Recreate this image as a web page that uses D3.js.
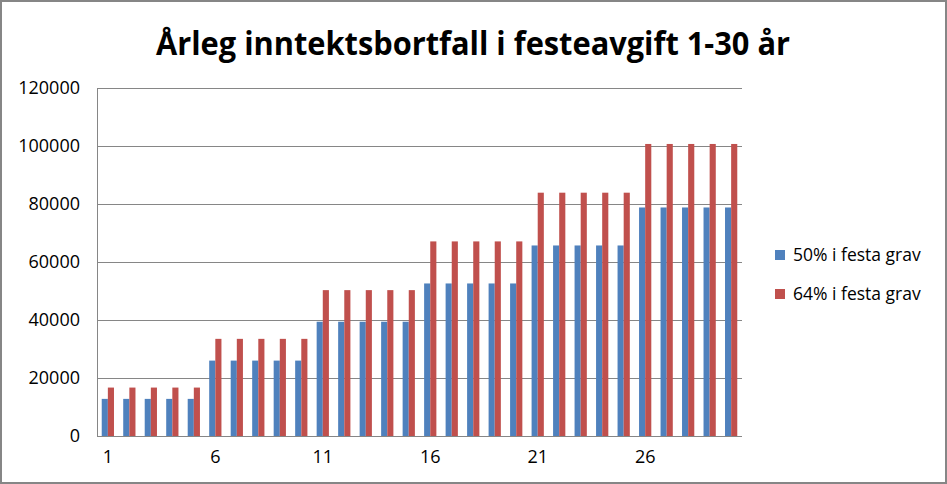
<!DOCTYPE html>
<meta charset="utf-8">
<style>
body { margin: 0; background: #fff; }
svg { font-family: "Open Sans", sans-serif; }
</style>
<body>
<script src="https://cdn.jsdelivr.net/npm/d3@7/dist/d3.min.js"></script>
<script>

// data
const years = d3.range(1, 31);
const seriesNames = ["50% i festa grav", "64% i festa grav"];
const colors = ["#4f81bd", "#c0504d"];
const half = [12800, 12800, 12800, 12800, 12800,
              26000, 26000, 26000, 26000, 26000,
              39400, 39400, 39400, 39400, 39400,
              52600, 52600, 52600, 52600, 52600,
              65700, 65700, 65700, 65700, 65700,
              78800, 78800, 78800, 78800, 78800];
const big = [16700, 16700, 16700, 16700, 16700,
             33500, 33500, 33500, 33500, 33500,
             50300, 50300, 50300, 50300, 50300,
             67100, 67100, 67100, 67100, 67100,
             83900, 83900, 83900, 83900, 83900,
             100700, 100700, 100700, 100700, 100700];
const yTicks = [0, 20000, 40000, 60000, 80000, 100000, 120000];
const xTickLabels = [1, 6, 11, 16, 21, 26];

const W = 947, H = 484;
const plot = { left: 97, right: 742, top: 88, bottom: 436 };

const svg = d3.select("body").append("svg")
   .attr("width", W)
   .attr("height", H);

svg.append("rect")
   .attr("x", 1).attr("y", 1)
   .attr("width", W - 2).attr("height", H - 2)
   .attr("fill", "#fff")
   .attr("stroke", "#868686")
   .attr("stroke-width", 2);

svg.append("text")
   .attr("x", 473)
   .attr("y", 55)
   .attr("text-anchor", "middle")
   .attr("textLength", 634)
   .attr("lengthAdjust", "spacingAndGlyphs")
   .style("font-size", "32px")
   .style("font-weight", "bold")
   .text("Årleg inntektsbortfall i festeavgift 1-30 år");

let x = d3.scaleBand()
   .domain(years)
   .range([plot.left, plot.right])
   .paddingInner(0.43)
   .paddingOuter(0.22);

let x1 = d3.scaleBand()
   .domain([0, 1])
   .range([0, x.bandwidth()]);

let y = d3.scaleLinear()
   .domain([0, 120000])
   .range([plot.bottom, plot.top]);

// gridlines
svg.append("g")
   .selectAll("line")
   .data(yTicks.slice(1))
   .join("line")
   .attr("x1", plot.left).attr("x2", plot.right)
   .attr("y1", d => Math.round(y(d)) + 0.5)
   .attr("y2", d => Math.round(y(d)) + 0.5)
   .attr("stroke", "#868686");

// bars
const rows = years.map((yr, i) => ({ year: yr, vals: [half[i], big[i]] }));

svg.append("g")
   .selectAll("g")
   .data(rows)
   .join("g")
   .attr("transform", d => `translate(${x(d.year)},0)`)
   .selectAll("rect")
   .data(d => d.vals)
   .join("rect")
   .attr("x", (v, j) => x1(j))
   .attr("width", x1.bandwidth())
   .attr("y", v => y(v))
   .attr("height", v => y(0) - y(v))
   .attr("fill", (v, j) => colors[j]);

// axes lines
svg.append("line")
   .attr("x1", plot.left + 0.5).attr("x2", plot.left + 0.5)
   .attr("y1", plot.top).attr("y2", plot.bottom)
   .attr("stroke", "#868686");
svg.append("line")
   .attr("x1", plot.left).attr("x2", plot.right)
   .attr("y1", plot.bottom + 0.5).attr("y2", plot.bottom + 0.5)
   .attr("stroke", "#868686");

// y labels
svg.append("g")
   .selectAll("text")
   .data(yTicks)
   .join("text")
   .attr("x", 80)
   .attr("y", d => y(d) + 6)
   .attr("text-anchor", "end")
   .style("font-size", "18px")
   .attr("fill", "#000")
   .text(d => d);

// x labels
svg.append("g")
   .selectAll("text")
   .data(xTickLabels)
   .join("text")
   .attr("x", d => x(d) + x.bandwidth() / 2)
   .attr("y", 463)
   .attr("text-anchor", "middle")
   .style("font-size", "18px")
   .text(d => d);

// legend
const legend = svg.append("g")
   .selectAll("g")
   .data(seriesNames)
   .join("g")
   .attr("transform", (d, i) => `translate(775,${250 + i * 39})`);

legend.append("rect")
   .attr("width", 10).attr("height", 10)
   .attr("fill", (d, i) => colors[i]);

legend.append("text")
   .attr("x", 18)
   .attr("y", 11)
   .style("font-size", "17.5px")
   .text(d => d);

</script>
</body>
